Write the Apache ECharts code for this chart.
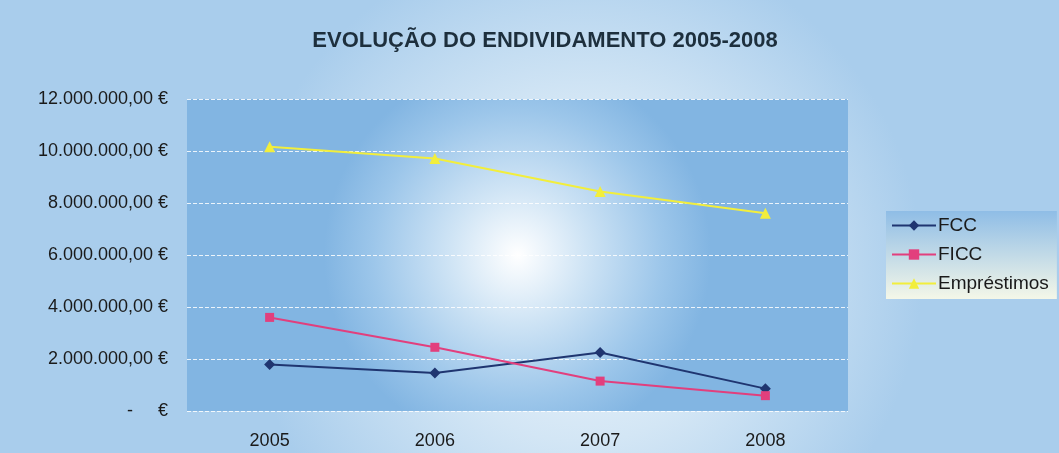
<!DOCTYPE html>
<html><head><meta charset="utf-8">
<script src="https://cdn.jsdelivr.net/npm/echarts@6/dist/echarts.min.js"></script>
<style>html,body{margin:0;padding:0;}#c{width:1059px;height:453px;}</style>
</head><body><div id="c"></div>
<script>
const categories = ['2005', '2006', '2007', '2008'];
const fcc = [1790000, 1460000, 2250000, 860000];
const ficc = [3600000, 2450000, 1150000, 590000];
const emprestimos = [10160000, 9710000, 8440000, 7610000];
const yTicks = [0, 2000000, 4000000, 6000000, 8000000, 10000000, 12000000];

function fmt(v) {
  if (v === 0) return '-     €';
  const s = Math.round(v).toString().replace(/\B(?=(\d{3})+(?!\d))/g, '.');
  return s + ',00 €';
}

const chart = echarts.init(document.getElementById('c'));
const font = 'Liberation Sans, Arial, sans-serif';
chart.setOption({
  backgroundColor: {
    type: 'radial', x: 0.55, y: 0.6, r: 0.75,
    colorStops: [
      {offset: 0, color: '#f4f9fd'},
      {offset: 0.5, color: '#d3e6f5'},
      {offset: 1, color: '#a9cdec'}
    ]
  },
  title: {
    text: 'EVOLUÇÃO DO ENDIVIDAMENTO 2005-2008',
    left: 540, top: 25, textAlign: 'center',
    textStyle: {fontFamily: font, fontWeight: 'bold', fontSize: 22, color: '#1d2f3d'}
  },
  legend: {
    orient: 'vertical', left: 886, top: 211,
    padding: [5, 8, 6, 5], itemGap: 10, itemWidth: 44, itemHeight: 13,
    backgroundColor: {
      type: 'linear', x: 0, y: 0, x2: 0, y2: 1,
      colorStops: [{offset: 0, color: '#8fbde6'}, {offset: 1, color: '#f4f7e8'}]
    },
    textStyle: {fontFamily: font, fontSize: 19, color: '#1a1a1a', padding: [0, 0, 0, -3]},
    data: ['FCC', 'FICC', 'Empréstimos']
  },
  grid: {
    left: 187, right: 211, top: 99, bottom: 42, show: true, borderWidth: 0,
    backgroundColor: {
      type: 'radial', x: 0.5, y: 0.5, r: 0.62,
      colorStops: [
        {offset: 0, color: '#ffffff'},
        {offset: 0.35, color: '#cfe4f5'},
        {offset: 0.75, color: '#9cc6ea'},
        {offset: 1, color: '#82b5e2'}
      ]
    }
  },
  xAxis: {
    type: 'category', data: categories, boundaryGap: true,
    axisLine: {show: false}, axisTick: {show: false},
    axisLabel: {fontFamily: font, fontSize: 18, color: '#1a1a1a', margin: 21}
  },
  yAxis: {
    type: 'value', min: 0, max: 12000000, interval: 2000000,
    axisLine: {show: false}, axisTick: {show: false},
    axisLabel: {fontFamily: font, fontSize: 18, color: '#1a1a1a', margin: 19, formatter: fmt},
    splitLine: {lineStyle: {color: 'rgba(255,255,255,0.85)', type: [4, 2], width: 1}}
  },
  series: [
    {name: 'FCC', type: 'line', data: fcc, symbol: 'diamond', symbolSize: 11,
     color: '#1f3570', lineStyle: {width: 2, color: '#1f3570'}, itemStyle: {color: '#1f3570'}},
    {name: 'FICC', type: 'line', data: ficc, symbol: 'rect', symbolSize: 9,
     color: '#e23f7d', lineStyle: {width: 2, color: '#e23f7d'}, itemStyle: {color: '#e23f7d'}},
    {name: 'Empréstimos', type: 'line', data: emprestimos, symbol: 'triangle', symbolSize: 11,
     color: '#f2ee3c', lineStyle: {width: 2, color: '#f2ee3c'}, itemStyle: {color: '#f2ee3c'}}
  ]
});
</script></body></html>
